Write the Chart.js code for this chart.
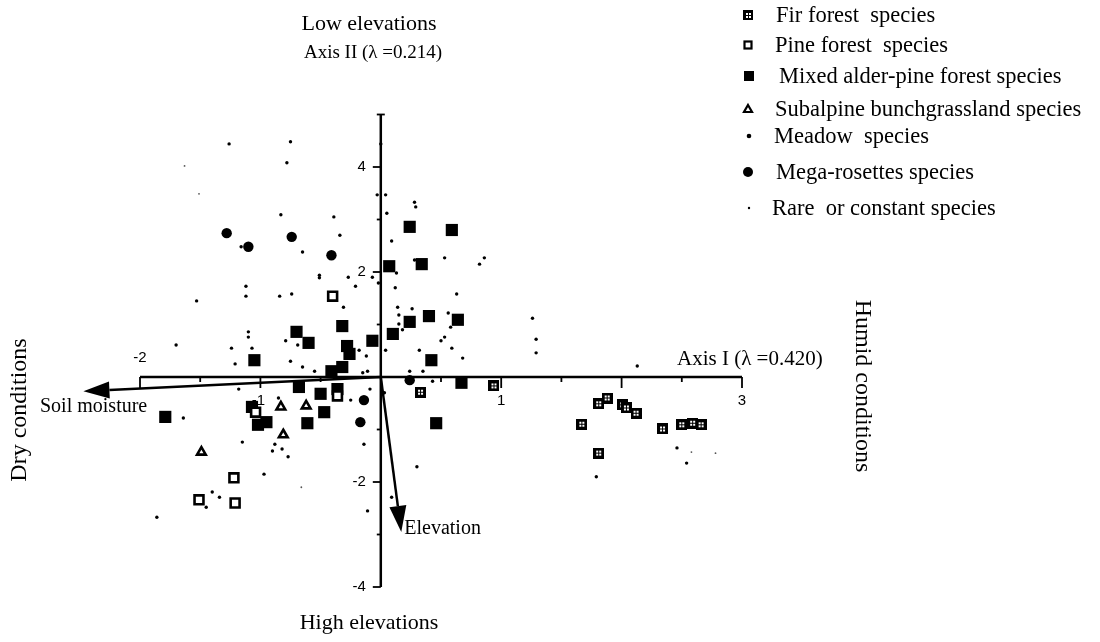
<!DOCTYPE html>
<html><head><meta charset="utf-8">
<script src="https://cdn.jsdelivr.net/npm/chart.js@4.4.0/dist/chart.umd.min.js"></script>
<style>html,body{margin:0;padding:0;background:#fff;}#wrap{width:1100px;height:642px;}</style>
</head><body><div id="wrap"><canvas id="c" width="1100" height="642"></canvas></div>
<script>
// ---- DATA (CCA scores: Axis I, Axis II) ----
const firForest = [[0.33,-0.29],[0.94,-0.17],[1.67,-0.90],[1.81,-0.51],[1.88,-0.40],[2.01,-0.53],[2.04,-0.59],[2.12,-0.69],[1.81,-1.45],[2.34,-0.99],[2.50,-0.91],[2.59,-0.88],[2.66,-0.91]];
const pineForest = [[-0.40,1.54],[-0.36,-0.36],[-1.04,-0.67],[-1.22,-1.92],[-1.51,-2.34],[-1.21,-2.40]];
const mixedAlderPine = [[0.24,2.86],[0.59,2.80],[0.07,2.11],[0.34,2.15],[0.40,1.16],[0.24,1.05],[0.64,1.09],[0.10,0.82],[-0.07,0.69],[-0.70,0.86],[-0.60,0.65],[-0.32,0.97],[-0.28,0.59],[-0.26,0.44],[0.42,0.32],[-1.05,0.32],[-0.41,0.11],[-0.32,0.19],[-0.68,-0.19],[-0.50,-0.32],[-0.36,-0.23],[0.67,-0.11],[-1.07,-0.57],[-1.02,-0.91],[-0.95,-0.86],[-0.47,-0.67],[-0.61,-0.88],[-1.79,-0.76],[0.46,-0.88]];
const subalpineBunchgrass = [[-0.83,-0.57],[-0.62,-0.55],[-0.81,-1.10],[-1.49,-1.43]];
const meadow = [[-1.26,4.44],[-0.75,4.48],[-0.78,4.08],[-0.83,3.09],[-0.39,3.05],[-0.34,2.70],[-1.16,2.48],[-0.65,2.38],[-0.51,1.94],[-0.51,1.89],[-0.27,1.90],[-0.07,1.90],[-1.12,1.73],[-1.12,1.54],[-0.84,1.54],[-0.74,1.58],[-0.21,1.73],[-1.53,1.45],[-0.31,1.33],[-1.10,0.86],[-1.10,0.76],[-1.70,0.61],[-1.24,0.55],[-1.07,0.55],[-0.79,0.69],[-0.69,0.61],[-0.18,0.51],[0.04,0.51],[-1.21,0.25],[-0.75,0.30],[-0.12,0.40],[-0.65,0.19],[-0.55,0.11],[-0.11,0.11],[-0.15,0.08],[0.00,4.44],[0.04,3.47],[-0.03,3.47],[0.28,3.33],[0.29,3.24],[0.05,3.12],[0.09,2.59],[0.28,2.23],[0.53,2.27],[0.86,2.27],[0.82,2.15],[0.13,1.98],[-0.02,1.79],[0.12,1.70],[0.63,1.58],[0.14,1.33],[0.15,1.18],[0.26,1.30],[0.15,1.01],[0.18,0.90],[0.56,1.22],[0.58,0.95],[0.53,0.76],[0.50,0.69],[0.32,0.51],[0.59,0.55],[0.68,0.36],[0.24,0.11],[0.35,0.11],[0.43,-0.08],[1.26,1.12],[1.29,0.72],[1.29,0.46],[2.13,0.21],[-0.09,-0.23],[0.03,-0.30],[-1.18,-0.23],[-0.85,-0.40],[-0.25,-0.44],[-1.64,-0.78],[-1.15,-1.24],[-0.88,-1.28],[-0.90,-1.41],[-0.82,-1.37],[-0.77,-1.52],[-0.14,-1.28],[-0.97,-1.85],[-1.40,-2.19],[-1.34,-2.29],[-1.45,-2.48],[-1.86,-2.67],[0.09,-2.29],[-0.11,-2.55],[0.30,-1.71],[2.46,-1.35],[2.54,-1.64],[1.79,-1.90]];
const megaRosettes = [[-1.28,2.74],[-1.10,2.48],[-0.74,2.67],[-0.41,2.32],[0.24,-0.06],[-0.14,-0.44],[-0.17,-0.86]];
const rareConstant = [[-1.63,4.02],[-1.51,3.49],[-0.66,-2.10],[2.58,-1.43],[2.78,-1.45]];
// environmental vectors (arrow tips)
const envLabels = ['Soil moisture','Elevation'];
const envX = [-2.47,0.17];
const envY = [-0.27,-2.95];
// axis ticks
const xTickValues = [-2,-1,1,3];
const xTickLabels = ['-2','-1','1','3'];
const yTickValues = [4,2,-2,-4];
const yTickLabels = ['4','2','-2','-4'];
const seriesNames = ['Fir forest  species','Pine forest  species','Mixed alder-pine forest species','Subalpine bunchgrassland species','Meadow  species','Mega-rosettes species','Rare  or constant species'];

// ---- styles ----
function makeFir(s){const c=document.createElement('canvas');c.width=s;c.height=s;const g=c.getContext('2d');g.fillStyle='#000';g.fillRect(0,0,s,s);g.fillStyle='#fff';const a=Math.round(s*0.27),b=Math.round(s*0.55);[[a,a],[b,a],[a,b],[b,b]].forEach(p=>g.fillRect(p[0],p[1],2,2));return c;}
const firImg = makeFir(11);
const toPts = a => a.map(p=>({x:p[0],y:p[1]}));
const SERIF = '"Liberation Serif", "Times New Roman", serif';
const SANS = '"Liberation Sans", Arial, sans-serif';

const axesPlugin = {
  id:'axes',
  beforeDatasetsDraw(chart){
    const ctx=chart.ctx, xs=chart.scales.x, ys=chart.scales.y;
    const X=v=>xs.getPixelForValue(v), Y=v=>ys.getPixelForValue(v);
    ctx.save();
    ctx.strokeStyle='#000'; ctx.fillStyle='#000'; ctx.lineCap='butt';
    // horizontal axis
    ctx.lineWidth=2.5;
    ctx.beginPath(); ctx.moveTo(X(-2),Y(0)); ctx.lineTo(X(3),Y(0)); ctx.stroke();
    ctx.lineWidth=1.8;
    for(let v=-2; v<=3.001; v+=0.5){ if(Math.abs(v)<1e-6) continue; const major=Math.abs(v-Math.round(v))<1e-6; ctx.beginPath(); ctx.moveTo(X(v),Y(0)); ctx.lineTo(X(v),Y(0)+(major?11:5)); ctx.stroke(); }
    // vertical axis
    ctx.lineWidth=2.5;
    ctx.beginPath(); ctx.moveTo(X(0),Y(5)); ctx.lineTo(X(0),Y(-4)); ctx.stroke();
    ctx.lineWidth=1.8;
    for(let v=-4; v<=5; v++){ if(v===0) continue; const major=yTickValues.includes(v); ctx.beginPath(); ctx.moveTo(X(0)-(major?8:4),Y(v)); ctx.lineTo(X(0)+(v===5?4:0),Y(v)); ctx.stroke(); }
    // tick labels
    ctx.font='15px '+SANS; ctx.textAlign='center'; ctx.textBaseline='middle';
    xTickValues.forEach((v,i)=>{ const yy = v===-2 ? Y(0)-19 : Y(0)+24; ctx.fillText(xTickLabels[i], X(v)+(v===-1?-2:0), yy); });
    ctx.textAlign='right';
    yTickValues.forEach((v,i)=>ctx.fillText(yTickLabels[i], X(0)-15, Y(v)));
    // environmental arrows
    envX.forEach((ex,i)=>{
      const x0=X(0),y0=Y(0),x1=X(ex),y1=Y(envY[i]);
      const ang=Math.atan2(y1-y0,x1-x0), L=26, W=8.5;
      const bx=x1-L*Math.cos(ang), by=y1-L*Math.sin(ang);
      ctx.lineWidth=2.5; ctx.beginPath(); ctx.moveTo(x0,y0); ctx.lineTo(bx,by); ctx.stroke();
      ctx.beginPath(); ctx.moveTo(x1,y1);
      ctx.lineTo(bx+W*Math.sin(ang), by-W*Math.cos(ang));
      ctx.lineTo(bx-W*Math.sin(ang), by+W*Math.cos(ang)); ctx.closePath(); ctx.fill();
    });
    ctx.font='20px '+SERIF; ctx.textAlign='left'; ctx.textBaseline='middle';
    ctx.fillText(envLabels[0], 40, Y(envY[0])+16);
    ctx.fillText(envLabels[1], X(envX[1])+3, Y(envY[1])-3);
    ctx.restore();
  },
  afterDraw(chart){
    const ctx=chart.ctx;
    ctx.save(); ctx.fillStyle='#000'; ctx.strokeStyle='#000';
    ctx.textBaseline='middle';
    // titles
    ctx.textAlign='center';
    ctx.font='22px '+SERIF;
    ctx.fillText('Low elevations', 369, 24);
    ctx.fillText('High elevations', 369, 623);
    ctx.font='19px '+SERIF;
    ctx.fillText('Axis II (\u03BB =0.214)', 373, 53);
    ctx.font='21px '+SERIF; ctx.textAlign='left';
    ctx.fillText('Axis I (\u03BB =0.420)', 677, 359);
    ctx.font='24px '+SERIF; ctx.textAlign='center';
    ctx.save(); ctx.translate(20,410); ctx.rotate(-Math.PI/2); ctx.fillText('Dry conditions',0,0); ctx.restore();
    ctx.save(); ctx.translate(862,386); ctx.rotate(Math.PI/2); ctx.fillText('Humid conditions',0,0); ctx.restore();
    // legend
    const rows=[15,45,76,109,136,172,208];
    const tx=[776,775,779,775,774,776,772];
    ctx.font='22.5px '+SERIF; ctx.textAlign='left';
    rows.forEach((ry,i)=>{
      const mx=748;
      if(i===0){ ctx.drawImage(makeFir(10), mx-5, ry-5); }
      else if(i===1){ ctx.lineWidth=2.2; ctx.fillStyle='#fff'; ctx.fillRect(mx-4,ry-4,8,8); ctx.strokeRect(mx-3.5,ry-3.5,7,7); ctx.fillStyle='#000'; }
      else if(i===2){ ctx.fillRect(mx-4,ry-5,10,10); }
      else if(i===3){ ctx.lineWidth=2.2; ctx.beginPath(); ctx.moveTo(mx,ry-4); ctx.lineTo(mx+4,ry+3); ctx.lineTo(mx-4,ry+3); ctx.closePath(); ctx.stroke(); }
      else if(i===4){ ctx.beginPath(); ctx.arc(mx+1,ry,2.3,0,Math.PI*2); ctx.fill(); }
      else if(i===5){ ctx.beginPath(); ctx.arc(mx,ry,5,0,Math.PI*2); ctx.fill(); }
      else { ctx.beginPath(); ctx.arc(mx+1,ry,1.2,0,Math.PI*2); ctx.fill(); }
      ctx.fillText(seriesNames[i], tx[i], ry+1);
    });
    ctx.restore();
  }
};

new Chart(document.getElementById('c').getContext('2d'), {
  type:'scatter',
  data:{datasets:[
    {label:seriesNames[6], data:toPts(rareConstant), pointStyle:'circle', pointRadius:0.9, backgroundColor:'#555', borderWidth:0, clip:false},
    {label:seriesNames[4], data:toPts(meadow), pointStyle:'circle', pointRadius:1.7, backgroundColor:'#000', borderWidth:0, clip:false},
    {label:seriesNames[5], data:toPts(megaRosettes), pointStyle:'circle', pointRadius:5.2, backgroundColor:'#000', borderWidth:0, clip:false},
    {label:seriesNames[0], data:toPts(firForest), pointStyle:firImg, pointRadius:6, backgroundColor:'#000', clip:false},
    {label:seriesNames[1], data:toPts(pineForest), pointStyle:'rect', pointRadius:6.3, backgroundColor:'#fff', borderColor:'#000', borderWidth:2.6, clip:false},
    {label:seriesNames[2], data:toPts(mixedAlderPine), pointStyle:'rect', pointRadius:8.6, backgroundColor:'#000', borderColor:'#000', borderWidth:0, clip:false},
    {label:seriesNames[3], data:toPts(subalpineBunchgrass), pointStyle:'triangle', pointRadius:5, backgroundColor:'#fff', borderColor:'#000', borderWidth:2.6, clip:false}
  ]},
  options:{
    responsive:false, animation:false, events:[],
    layout:{autoPadding:false, padding:{left:19.6,right:237.6,top:88.25,bottom:2.5}},
    scales:{x:{type:'linear',min:-3,max:4,display:false},y:{type:'linear',min:-5,max:5.5,display:false}},
    plugins:{legend:{display:false},tooltip:{enabled:false}}
  },
  plugins:[axesPlugin]
});
</script></body></html>
